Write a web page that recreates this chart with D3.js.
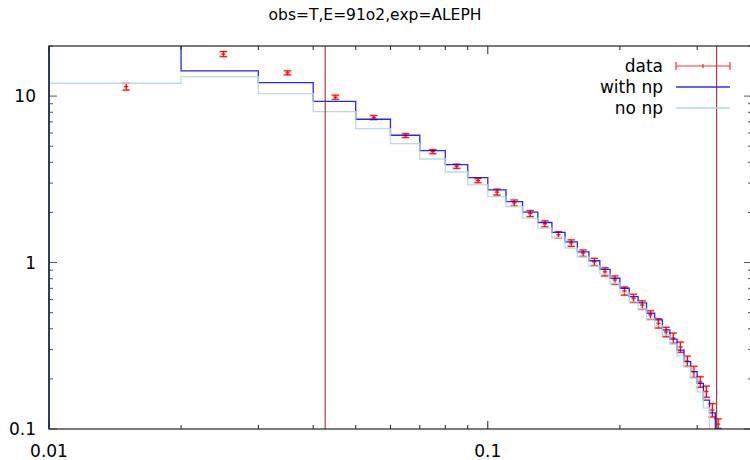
<!DOCTYPE html>
<html>
<head>
<meta charset="utf-8">
<script src="https://cdn.jsdelivr.net/npm/d3@7"></script>
<style>
  html, body { margin: 0; padding: 0; background: #fff; }
  svg text { font-family: "DejaVu Sans", sans-serif; fill: #000; }
</style>
</head>
<body>
<svg id="chart" width="750" height="460"></svg>
<script>
// ---------- data ----------
const titleText = "obs=T,E=91o2,exp=ALEPH";
const binLow = [0.01,0.02,0.03,0.04,0.05,0.06,0.07,0.08,0.09,0.10,0.11,0.12,0.13,0.14,0.15,0.16,0.17,0.18,0.19,0.20,0.21,0.22,0.23,0.24,0.25,0.26,0.27,0.28,0.29,0.30,0.31,0.32,0.33];
const binWidth = 0.01;
const dataValues = [11.4,17.9,13.8,9.85,7.43,5.79,4.64,3.79,3.11,2.65,2.28,1.97,1.71,1.47,1.31,1.14,1.01,0.88,0.786,0.675,0.61,0.556,0.484,0.432,0.383,0.352,0.311,0.256,0.221,0.192,0.168,0.13,0.107];
const dataErrors = [0.54,0.63,0.39,0.28,0.21,0.16,0.13,0.11,0.093,0.11,0.096,0.083,0.072,0.062,0.059,0.051,0.05,0.05,0.045,0.038,0.035,0.033,0.029,0.028,0.025,0.025,0.022,0.018,0.017,0.014,0.013,0.012,0.008];
const withNp = [26,14.17,12.05,9.29,7.26,5.82,4.70,3.88,3.24,2.73,2.32,2.01,1.74,1.52,1.33,1.16,1.025,0.909,0.805,0.701,0.624,0.572,0.496,0.452,0.394,0.347,0.298,0.254,0.221,0.188,0.149,0.125,0.101];
const noNp = [11.95,13.10,10.35,8.06,6.38,5.18,4.19,3.50,2.93,2.49,2.17,1.85,1.61,1.41,1.22,1.08,0.950,0.851,0.751,0.657,0.580,0.526,0.458,0.416,0.367,0.324,0.275,0.236,0.203,0.167,0.134];
const cutLines = [0.0426, 0.3323];
const xTickLabels = [0.01, 0.1];
const yTickLabels = [0.1, 1, 10];
const legendNames = ["data", "with np", "no np"];

// ---------- layout ----------
const L = 49, R = 752, T = 46, B = 429;
const svg = d3.select("#chart");
const x = d3.scaleLog().domain([0.01, 0.4]).range([L, R]);
const y = d3.scaleLog().domain([0.1, 20]).range([B, T]);
const yFloor = 0.01; // below range, for drops to the axis

svg.append("defs").append("clipPath").attr("id", "clip")
  .append("rect").attr("x", L).attr("y", T).attr("width", R - L).attr("height", B - T);

// title
svg.append("text").attr("x", 375).attr("y", 20).attr("text-anchor", "middle")
  .style("font-size", "15.5px").text(titleText);

const plot = svg.append("g").attr("clip-path", "url(#clip)");

// ---------- data error bars ----------
const pts = binLow.map((lo, i) => ({ xc: lo + binWidth / 2, v: dataValues[i], e: dataErrors[i] }));
const cap = 3.5;
function drawErr(g, color, width, opacity, capw, dx) {
  const gg = g.append("g").attr("stroke", color).attr("stroke-width", width).attr("stroke-opacity", opacity).attr("fill", "none");
  pts.forEach(p => {
    const cx = x(p.xc) + dx, y1 = y(p.v - p.e), y2 = y(p.v + p.e);
    gg.append("line").attr("x1", cx).attr("x2", cx).attr("y1", y1).attr("y2", y2);
    gg.append("line").attr("x1", cx - capw).attr("x2", cx + capw).attr("y1", y1).attr("y2", y1);
    gg.append("line").attr("x1", cx - capw).attr("x2", cx + capw).attr("y1", y2).attr("y2", y2);
    gg.append("line").attr("x1", cx - 2).attr("x2", cx + 2).attr("y1", y(p.v)).attr("y2", y(p.v));
  });
}
drawErr(plot, "#ff6060", 2.2, 0.45, cap + 0.5, -0.5);
drawErr(plot, "#ff0000", 1, 1, cap, 0);

// ---------- histogram steps ----------
function stepPoints(vals) {
  const p = [[binLow[0], yFloor]];
  vals.forEach((v, i) => { p.push([binLow[i], v]); p.push([binLow[i] + binWidth, v]); });
  p.push([binLow[vals.length - 1] + binWidth, yFloor]);
  return p;
}
const line = d3.line().x(d => x(d[0])).y(d => Math.min(Math.max(y(d[1]), T - 5), B + 5));
plot.append("path").attr("d", line(stepPoints(withNp))).attr("fill", "none")
  .attr("stroke", "#0000ee").attr("stroke-width", 1.3).attr("stroke-opacity", 0.85);
plot.append("path").attr("d", line(stepPoints(noNp))).attr("fill", "none")
  .attr("stroke", "#add8e6").attr("stroke-width", 1.3).attr("stroke-opacity", 0.9);

// ---------- vertical cut lines ----------
plot.selectAll(".cut").data(cutLines).enter().append("line")
  .attr("x1", d => x(d)).attr("x2", d => x(d)).attr("y1", T).attr("y2", B)
  .attr("stroke", "#a52a2a").attr("stroke-width", 1.1);

// ---------- border & ticks ----------
const axisG = svg.append("g").attr("stroke", "#000").attr("stroke-width", 1);
const xMinor = [], yMinor = [];
[0.01, 0.1].forEach(dec => { for (let k = 2; k <= 9; k++) { const t = dec * k; if (t <= 0.4) xMinor.push(t); } });
[0.1, 1, 10].forEach(dec => { for (let k = 2; k <= 9; k++) { const t = dec * k; if (t <= 20) yMinor.push(t); } });
const tickCol = "#222";
xTickLabels.forEach(t => {
  axisG.append("line").attr("x1", x(t)).attr("x2", x(t)).attr("y1", B).attr("y2", B - 8).attr("stroke", tickCol);
  axisG.append("line").attr("x1", x(t)).attr("x2", x(t)).attr("y1", T).attr("y2", T + 8).attr("stroke", tickCol);
});
xMinor.forEach(t => {
  axisG.append("line").attr("x1", x(t)).attr("x2", x(t)).attr("y1", B).attr("y2", B - 4).attr("stroke", tickCol);
  axisG.append("line").attr("x1", x(t)).attr("x2", x(t)).attr("y1", T).attr("y2", T + 4).attr("stroke", tickCol);
});
yTickLabels.forEach(t => {
  axisG.append("line").attr("x1", L).attr("x2", L + 8).attr("y1", y(t)).attr("y2", y(t)).attr("stroke", "#555");
  axisG.append("line").attr("x1", R).attr("x2", R - 8).attr("y1", y(t)).attr("y2", y(t)).attr("stroke", "#555");
});
yMinor.forEach(t => {
  axisG.append("line").attr("x1", L).attr("x2", L + 4).attr("y1", y(t)).attr("y2", y(t)).attr("stroke", "#555");
  axisG.append("line").attr("x1", R).attr("x2", R - 4).attr("y1", y(t)).attr("y2", y(t)).attr("stroke", "#555");
});
svg.append("rect").attr("x", L).attr("y", T).attr("width", R - L).attr("height", B - T)
  .attr("fill", "none").attr("stroke", "#222").attr("stroke-width", 1.2);
svg.append("line").attr("x1", L).attr("x2", L).attr("y1", T).attr("y2", B)
  .attr("stroke", "#263056").attr("stroke-width", 1.6);

// tick labels
svg.selectAll(".xl").data(xTickLabels).enter().append("text")
  .attr("x", d => x(d)).attr("y", 457).attr("text-anchor", "middle")
  .style("font-size", "17px").text(d => String(d));
svg.selectAll(".yl").data(yTickLabels).enter().append("text")
  .attr("x", 36).attr("y", d => y(d)).attr("dy", "0.36em").attr("text-anchor", "end")
  .style("font-size", "17px").text(d => String(d));

// ---------- legend ----------
const legY = [66, 87, 108];
const lx1 = 676, lx2 = 730, ltx = 663;
legendNames.forEach((n, i) => {
  svg.append("text").attr("x", ltx).attr("y", legY[i]).attr("dy", "0.36em").attr("text-anchor", "end")
    .style("font-size", "17px").text(n);
});
const lg = svg.append("g");
lg.append("line").attr("x1", lx1).attr("x2", lx2).attr("y1", legY[0]).attr("y2", legY[0]).attr("stroke", "#ff3030").attr("stroke-width", 1.2);
[lx1, lx2].forEach(cx => lg.append("line").attr("x1", cx).attr("x2", cx).attr("y1", legY[0] - 4).attr("y2", legY[0] + 4).attr("stroke", "#ff3030").attr("stroke-width", 1.2));
lg.append("line").attr("x1", 703).attr("x2", 703).attr("y1", legY[0] - 2).attr("y2", legY[0] + 2).attr("stroke", "#ff0000");
lg.append("line").attr("x1", lx1).attr("x2", lx2).attr("y1", legY[1]).attr("y2", legY[1]).attr("stroke", "#3030ee").attr("stroke-width", 1.3);
lg.append("line").attr("x1", lx1).attr("x2", lx2).attr("y1", legY[2]).attr("y2", legY[2]).attr("stroke", "#add8e6").attr("stroke-width", 1.3);
</script>
</body>
</html>
